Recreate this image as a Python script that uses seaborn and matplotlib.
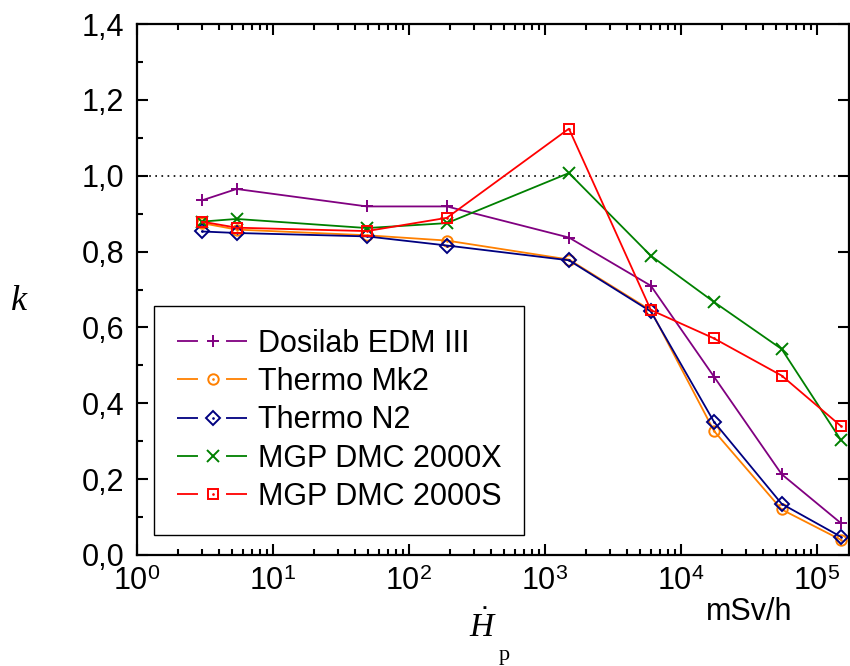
import numpy as np
import pandas as pd
import matplotlib
matplotlib.use("Agg")
import matplotlib.pyplot as plt
import seaborn as sns
from matplotlib.lines import Line2D
from matplotlib.legend_handler import HandlerTuple
from matplotlib.ticker import LogLocator, FixedLocator, FuncFormatter, NullFormatter

# ---- data ----
dose_rate = [3, 5.4, 49, 190, 1500, 6000, 17500, 55000, 150000]
dosilab = [0.935, 0.965, 0.919, 0.919, 0.837, 0.710, 0.470, 0.213, 0.084]
thermo_mk2 = [0.875, 0.858, 0.843, 0.829, 0.779, 0.645, 0.327, 0.120, 0.040]
thermo_n2 = [0.853, 0.849, 0.840, 0.816, 0.777, 0.642, 0.351, 0.135, 0.048]
mgp_x = [0.879, 0.886, 0.862, 0.875, 1.007, 0.789, 0.667, 0.543, 0.303]
mgp_s = [0.879, 0.863, 0.854, 0.889, 1.124, 0.646, 0.571, 0.473, 0.340]
series_names = ["Dosilab EDM III", "Thermo Mk2", "Thermo N2", "MGP DMC 2000X", "MGP DMC 2000S"]
series_vals = [dosilab, thermo_mk2, thermo_n2, mgp_x, mgp_s]
colors = ["#800080", "#FF8000", "#000080", "#008000", "#FF0000"]
markers = ["+", "o", "D", "x", "s"]
msizes = [9, 7.5, 7.2, 9, 7]
center_dot = [False, True, True, False, True]
y_ticks = [0.0, 0.2, 0.4, 0.6, 0.8, 1.0, 1.2, 1.4]

sns.set_style("ticks")
plt.rcParams["font.family"] = ["Liberation Sans", "DejaVu Sans"]
plt.rcParams["mathtext.fontset"] = "custom"
plt.rcParams["mathtext.rm"] = "Liberation Sans"
plt.rcParams["mathtext.it"] = "Liberation Serif:italic"
plt.rcParams["lines.scale_dashes"] = False
for key in ["text.color", "axes.labelcolor", "xtick.color", "ytick.color", "axes.edgecolor"]:
    plt.rcParams[key] = "black"

fig = plt.figure(figsize=(8.5, 6.66), dpi=100)
ax = fig.add_axes([137 / 850, 1 - 555 / 666, (849 - 137) / 850, (555 - 24) / 666])

ax.axhline(1.0, color="black", ls=(0, (1.2, 3.2)), lw=1.2, zorder=1)

handles = []
for name, vals, c, m, ms, cd in zip(series_names, series_vals, colors, markers, msizes, center_dot):
    df = pd.DataFrame({"x": dose_rate, "y": vals})
    sns.lineplot(data=df, x="x", y="y", ax=ax, color=c, lw=1.3, marker=m, ms=ms,
                 mfc="none", mec=c, mew=1.4, legend=False)
    parts = [Line2D([], [], color=c, lw=1.3, ls=(0, (15.1, 20.2))),
             Line2D([], [], ls="none", marker=m, ms=ms, mfc="none", mec=c, mew=1.4)]
    if cd:
        ax.plot(dose_rate, vals, ls="none", marker=".", ms=1.8, color=c)
        parts.append(Line2D([], [], ls="none", marker=".", ms=1.8, color=c))
    handles.append(tuple(parts))

ax.set_xscale("log")
ax.set_xlim(1, 1.72e5)
ax.set_ylim(0, 1.4)
ax.set_xlabel("")
ax.set_ylabel("")

ax.xaxis.set_major_locator(LogLocator(base=10, numticks=10))
ax.xaxis.set_minor_locator(LogLocator(base=10, subs=np.arange(2, 10), numticks=20))
ax.xaxis.set_minor_formatter(NullFormatter())
ax.xaxis.set_major_formatter(FuncFormatter(lambda v, p: r"$10^{%d}$" % int(round(np.log10(v)))))
ax.yaxis.set_major_locator(FixedLocator(y_ticks))
ax.yaxis.set_minor_locator(FixedLocator(np.arange(0.1, 1.4, 0.2)))
ax.yaxis.set_major_formatter(FuncFormatter(lambda v, p: f"{v:.1f}".replace(".", ",")))

ax.tick_params(axis="both", which="both", direction="in", width=1.5, labelsize=22, pad=9)
ax.tick_params(which="major", length=8)
ax.tick_params(which="minor", length=4.5)
ax.tick_params(axis="x", which="both", top=True)
ax.tick_params(axis="y", which="major", right=True)
ax.tick_params(axis="y", which="minor", right=False)
for s in ax.spines.values():
    s.set_linewidth(1.6)
    s.set_visible(True)

leg = ax.legend(handles, series_names, handler_map={tuple: HandlerTuple(ndivide=1)},
                loc="upper left", bbox_to_anchor=(154 / 850, 1 - 306 / 666),
                bbox_transform=fig.transFigure, fontsize=22, frameon=True, fancybox=False,
                edgecolor="black", framealpha=1, borderpad=0.75, handlelength=2.35,
                handletextpad=0.3, labelspacing=0.27, borderaxespad=0)
leg.get_frame().set_linewidth(1.0)

fig.text(19 / 850, 1 - 302 / 666, "k", family="Liberation Serif", style="italic",
         fontsize=26, ha="center", va="center")
fig.text(749 / 850, 1 - 612 / 666, "mSv/h", fontsize=22, ha="center", va="center")
fig.text(483 / 850, 1 - 627 / 666, r"$\dot{H}$", fontsize=24, ha="center", va="center")
fig.text(504 / 850, 1 - 665 / 666, "p", family="Liberation Serif", fontsize=16,
         ha="center", va="bottom")

fig.savefig("out.png", dpi=100)
